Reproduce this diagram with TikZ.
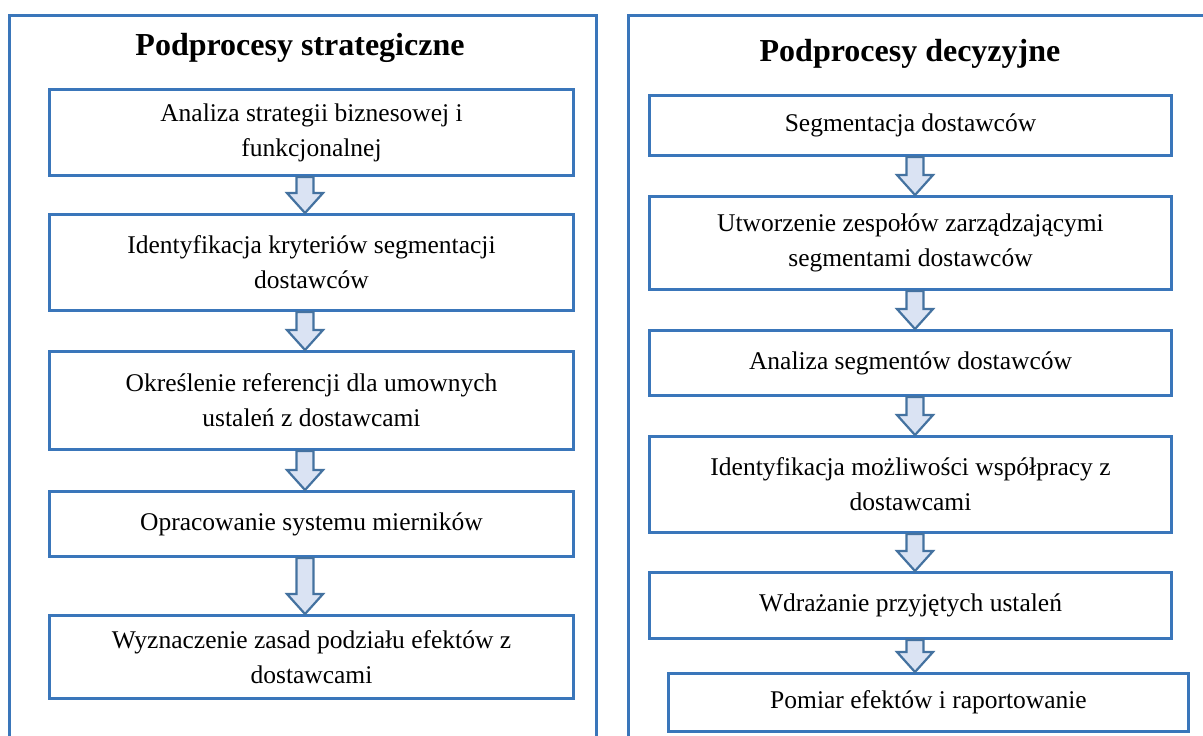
\documentclass[tikz,border=0pt]{standalone}
\usepackage{fontspec}
\setmainfont{Liberation Serif}
\usetikzlibrary{calc}
\definecolor{frameblue}{RGB}{58,118,186}
\definecolor{arrowline}{RGB}{68,114,160}
\definecolor{arrowfill}{RGB}{218,227,243}
\tikzset{
  panel/.style={draw=frameblue, line width=3pt},
  stepbox/.style={draw=frameblue, line width=3pt, fill=white, anchor=north west,
    align=center, inner sep=0pt, font=\fontsize{25.5}{35}\selectfont},
  paneltitle/.style={font=\fontsize{32}{38}\selectfont\bfseries, inner sep=0pt},
  blockarrow/.style={draw=arrowline, fill=arrowfill, line width=2.2pt, line join=miter},
}
% block arrow between two boxes: #1 upper box, #2 lower box, #3 x-centre
\newcommand{\flowarrow}[3]{%
  \draw[blockarrow] let \p1=(#1.south), \p2=(#2.north) in
    (#3-8.5pt,\y1) -- (#3+8.5pt,\y1) -- (#3+8.5pt,\y2+20pt) -- (#3+18pt,\y2+20pt)
    -- (#3pt,\y2) -- (#3-18pt,\y2+20pt) -- (#3-8.5pt,\y2+20pt) -- cycle;}
\begin{document}
\begin{tikzpicture}[x=1pt,y=-1pt]
\useasboundingbox (0,0) rectangle (1203,736);
\clip (0,0) rectangle (1203,736);
\fill[white] (0,0) rectangle (1203,736);

% panels
\draw[panel] (9,15) rectangle (596,760);
\draw[panel] (628,15) rectangle (1230,760);
\node[paneltitle] (tl) at (300,48) {Podprocesy strategiczne};
\node[paneltitle] (tr) at (910,54) {Podprocesy decyzyjne};

% strategic sub-processes
\node[stepbox, minimum width=524pt, minimum height=86pt] (l1) at (48,88)
  {Analiza strategii biznesowej i\\funkcjonalnej};
\node[stepbox, minimum width=524pt, minimum height=96pt] (l2) at (48,213)
  {Identyfikacja kryteriów segmentacji\\dostawców};
\node[stepbox, minimum width=524pt, minimum height=98pt] (l3) at (48,350)
  {Określenie referencji dla umownych\\ustaleń z dostawcami};
\node[stepbox, minimum width=524pt, minimum height=65pt] (l4) at (48,490)
  {Opracowanie systemu mierników};
\node[stepbox, minimum width=524pt, minimum height=83pt] (l5) at (48,614)
  {Wyznaczenie zasad podziału efektów z\\dostawcami};

% decision sub-processes
\node[stepbox, minimum width=522pt, minimum height=60pt] (r1) at (648,94)
  {Segmentacja dostawców};
\node[stepbox, minimum width=522pt, minimum height=93pt] (r2) at (648,195)
  {Utworzenie zespołów zarządzającymi\\segmentami dostawców};
\node[stepbox, minimum width=522pt, minimum height=65pt] (r3) at (648,329)
  {Analiza segmentów dostawców};
\node[stepbox, minimum width=522pt, minimum height=96pt] (r4) at (648,435)
  {Identyfikacja możliwości współpracy z\\dostawcami};
\node[stepbox, minimum width=522pt, minimum height=66pt] (r5) at (648,571)
  {Wdrażanie przyjętych ustaleń};
\node[stepbox, minimum width=520pt, minimum height=58pt] (r6) at (667,672)
  {Pomiar efektów i raportowanie};

% flow arrows
\flowarrow{l1}{l2}{305}
\flowarrow{l2}{l3}{305}
\flowarrow{l3}{l4}{305}
\flowarrow{l4}{l5}{305}
\flowarrow{r1}{r2}{915}
\flowarrow{r2}{r3}{915}
\flowarrow{r3}{r4}{915}
\flowarrow{r4}{r5}{915}
\flowarrow{r5}{r6}{915}
\end{tikzpicture}
\end{document}
